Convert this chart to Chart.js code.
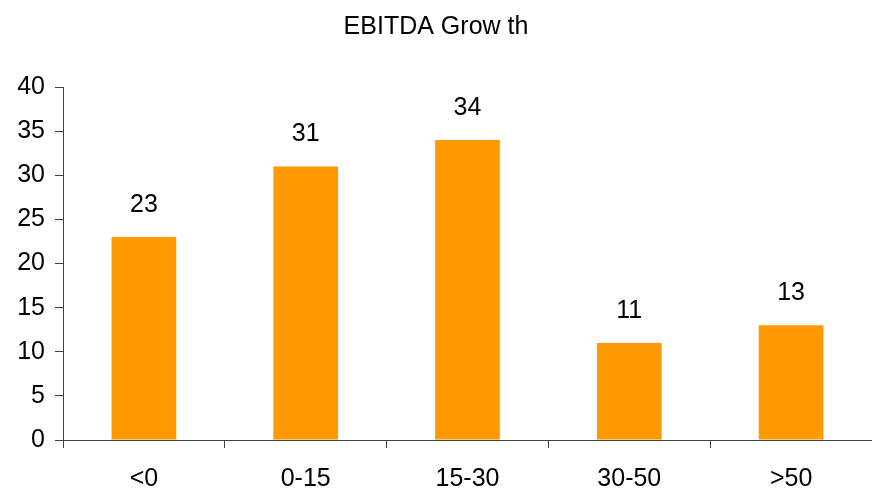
<!DOCTYPE html>
<html>
<head>
<meta charset="utf-8">
<script src="https://cdn.jsdelivr.net/npm/chart.js@4/dist/chart.umd.min.js"></script>
<style>
  html, body { margin: 0; padding: 0; background: #fff; overflow: hidden; }
  #wrap { width: 872px; height: 490px; }
</style>
</head>
<body>
<div id="wrap"><canvas id="c" width="872" height="490"></canvas></div>
<script>
const categories = ['<0', '0-15', '15-30', '30-50', '>50'];
const growthCounts = [23, 31, 34, 11, 13];
const titleText = 'EBITDA Grow th';

const FONT = "'Liberation Sans', Arial, sans-serif";
const axisColor = '#404040';

// Writes each bar's value above it
const valueLabels = {
  id: 'valueLabels',
  afterDatasetsDraw(chart) {
    const ctx = chart.ctx;
    const meta = chart.getDatasetMeta(0);
    ctx.save();
    ctx.font = '25px ' + FONT;
    ctx.fillStyle = '#000';
    ctx.textAlign = 'center';
    ctx.textBaseline = 'middle';
    meta.data.forEach((bar, i) => {
      ctx.fillText(String(growthCounts[i]), bar.x, bar.y - 32);
    });
    ctx.restore();
  }
};

new Chart(document.getElementById('c'), {
  type: 'bar',
  data: {
    labels: categories,
    datasets: [{
      data: growthCounts,
      backgroundColor: '#FF9900',
      borderWidth: 0,
      categoryPercentage: 1,
      barPercentage: 0.4
    }]
  },
  options: {
    responsive: false,
    animation: false,
    layout: { padding: { left: 0, right: 0, top: 0, bottom: 0 } },
    plugins: {
      legend: { display: false },
      tooltip: { enabled: false },
      title: {
        display: true,
        text: titleText,
        color: '#000',
        font: { family: FONT, size: 25, weight: 'normal' },
        padding: { top: 12, bottom: 45 }
      }
    },
    scales: {
      x: {
        offset: true,
        grid: {
          offset: true,
          drawOnChartArea: false,
          drawTicks: true,
          tickLength: 8,
          color: axisColor
        },
        border: { display: true, color: axisColor, width: 1 },
        ticks: {
          color: '#000',
          font: { family: FONT, size: 25 },
          padding: 16
        },
        afterFit(scale) { scale.height = 50; }
      },
      y: {
        min: 0,
        max: 40,
        ticks: {
          stepSize: 5,
          color: '#000',
          font: { family: FONT, size: 25 },
          padding: 10
        },
        grid: {
          drawOnChartArea: false,
          drawTicks: true,
          tickLength: 8,
          color: axisColor
        },
        border: { display: true, color: axisColor, width: 1 },
        afterFit(scale) { scale.width = 63; }
      }
    }
  },
  plugins: [valueLabels]
});
</script>
</body>
</html>
